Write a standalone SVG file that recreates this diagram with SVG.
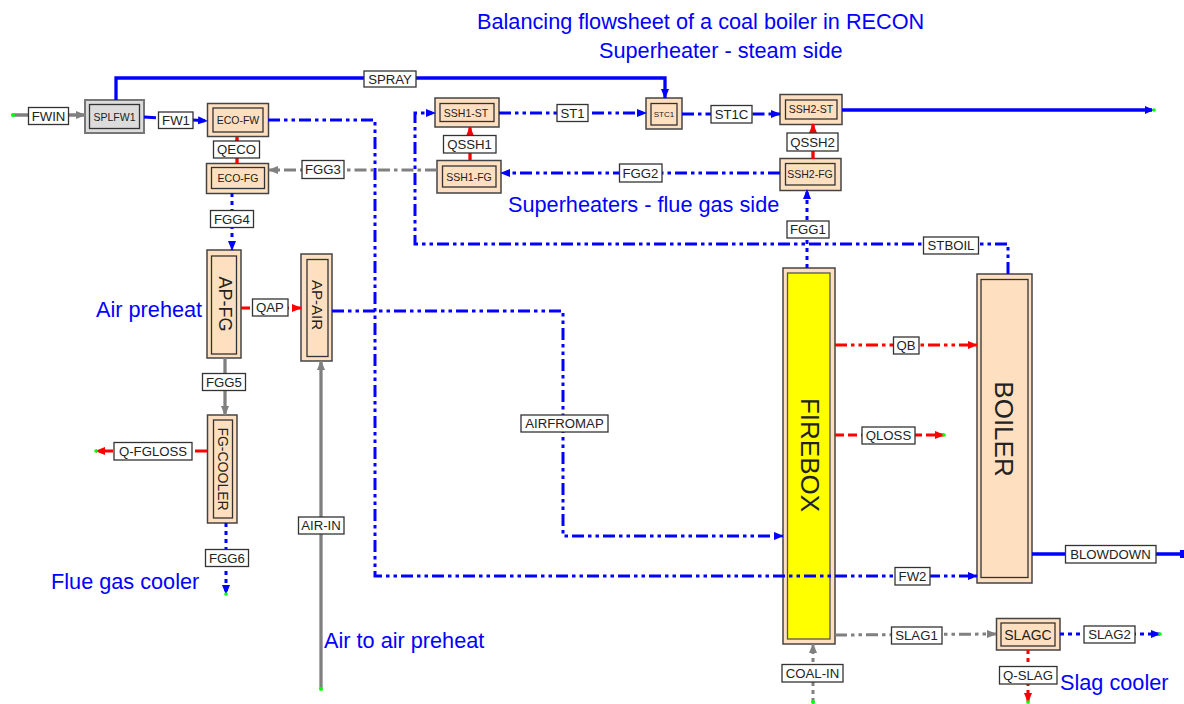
<svg xmlns="http://www.w3.org/2000/svg" width="1184" height="704" viewBox="0 0 1184 704">
<style>
text{font-family:"Liberation Sans",Arial,sans-serif;fill:#222}
.o{fill:#fedfc0;stroke:#444;stroke-width:1.5}
.g{fill:#dcdcdc;stroke:#777;stroke-width:2}
.i{fill:#fedfc0;stroke:#333;stroke-width:1.3}
.n{text-anchor:middle;dominant-baseline:central}
.lb rect{fill:#fff;stroke:#333;stroke-width:1.3}
.lb text{font-size:13.2px;text-anchor:middle;dominant-baseline:central}
.t{font-size:21.7px;fill:#0000ff}
.c{fill:none;stroke-width:3}
.blue{stroke:#0000ff}.red{stroke:#ff0000}.grey{stroke:#808080}
.solid{stroke-width:3.3}
.ddd{stroke-dasharray:12 4 3.500 4 3.500 4}
.dd{stroke-dasharray:12 4 3.500 4}
.d{stroke-dasharray:4 4}
.da{stroke-dasharray:9 4}
.ab{marker-end:url(#ab)}.ar{marker-end:url(#ar)}.ag{marker-end:url(#ag)}
.dot{fill:#00ff00}
</style>
<defs>
<marker id="ab" markerUnits="userSpaceOnUse" markerWidth="12" markerHeight="12" refX="9" refY="5" orient="auto"><path d="M0 1L10 5L0 9Z" fill="#0000ff"/></marker>
<marker id="ar" markerUnits="userSpaceOnUse" markerWidth="12" markerHeight="12" refX="9" refY="5" orient="auto"><path d="M0 1L10 5L0 9Z" fill="#ff0000"/></marker>
<marker id="ag" markerUnits="userSpaceOnUse" markerWidth="12" markerHeight="12" refX="9" refY="5" orient="auto"><path d="M0 1L10 5L0 9Z" fill="#808080"/></marker>
</defs>

<g id="SPLFW1"><rect class="g" x="85" y="100" width="59" height="33"/><rect x="89.500" y="104.500" width="50" height="24" fill="#dcdcdc" stroke="#333" stroke-width="1.3"/><text class="n" x="114.500" y="116.500" font-size="10.500">SPLFW1</text></g>
<g id="ECO-FW"><rect class="o" x="207.500" y="103.500" width="61" height="33"/><rect class="i" x="213" y="108" width="50" height="24"/><text class="n" x="238" y="120" font-size="10.500">ECO-FW</text></g>
<g id="ECO-FG"><rect class="o" x="206.500" y="163.500" width="62" height="30"/><rect class="i" x="211.500" y="167.500" width="53" height="21"/><text class="n" x="238" y="178" font-size="10.500">ECO-FG</text></g>
<g id="AP-FG"><rect class="o" x="207" y="250" width="34" height="108"/><rect class="i" x="211.500" y="256" width="25" height="98"/><text class="n" transform="translate(225 304) rotate(90)" font-size="18">AP-FG</text></g>
<g id="AP-AIR"><rect class="o" x="301" y="254" width="31" height="107"/><rect class="i" x="307" y="259.500" width="21" height="97"/><text class="n" transform="translate(317 305) rotate(90)" font-size="15">AP-AIR</text></g>
<g id="FG-COOLER"><rect class="o" x="207.500" y="415" width="29.500" height="108"/><rect class="i" x="213.500" y="420" width="19" height="98"/><text class="n" transform="translate(223 469) rotate(90)" font-size="14">FG-COOLER</text></g>
<g id="SSH1-ST"><rect class="o" x="435" y="98" width="64" height="29"/><rect class="i" x="440" y="103.500" width="54" height="18"/><text class="n" x="466" y="113" font-size="10.500">SSH1-ST</text></g>
<g id="SSH1-FG"><rect class="o" x="437" y="160.500" width="64" height="32.500"/><rect class="i" x="442.500" y="166" width="53.500" height="21"/><text class="n" x="469" y="177" font-size="10.500">SSH1-FG</text></g>
<g id="STC1"><rect class="o" x="646" y="98" width="36" height="31"/><rect class="i" x="651" y="103.500" width="26" height="21.500"/><text class="n" x="664" y="114.500" font-size="8">STC1</text></g>
<g id="SSH2-ST"><rect class="o" x="780" y="94.500" width="62" height="30"/><rect class="i" x="785.500" y="100" width="51.500" height="19"/><text class="n" x="811" y="109" font-size="10.500">SSH2-ST</text></g>
<g id="SSH2-FG"><rect class="o" x="780" y="158.500" width="61" height="32"/><rect class="i" x="785.500" y="163.500" width="49.500" height="21.500"/><text class="n" x="810" y="174" font-size="10.500">SSH2-FG</text></g>
<g id="FIREBOX"><rect class="o" x="783" y="268" width="52" height="376"/><rect x="787.500" y="273" width="42.500" height="366" fill="#ffff00" stroke="#555" stroke-width="1.3"/><text class="n" transform="translate(810 455) rotate(90)" font-size="26">FIREBOX</text></g>
<g id="BOILER"><rect class="o" x="977" y="274" width="55" height="309"/><rect class="i" x="981" y="279.500" width="47" height="298"/><text class="n" transform="translate(1004 429) rotate(90)" font-size="26">BOILER</text></g>
<g id="SLAGC"><rect class="o" x="996.500" y="618.500" width="63.500" height="31.500"/><rect class="i" x="1001" y="623" width="54" height="23"/><text class="n" x="1028" y="634.500" font-size="14">SLAGC</text></g>

<g id="connectors">
<path class="c grey solid ag" d="M13 115H85"/>
<path class="c blue solid ab" d="M116 100V78H665V98"/>
<path class="c blue dd ab" d="M144 117L158 118M193 120L207 121"/>
<path class="c blue ddd ab" d="M268 120H375V576H977"/>
<path class="c red solid ar" d="M237 163V137"/>
<path class="c grey dd ag" d="M437 170H269"/>
<path class="c blue d ab" d="M232 193V250"/>
<path class="c blue ddd ab" d="M499 113H646"/>
<path class="c blue dd ab" d="M682 114H780"/>
<path class="c blue solid" d="M842 110H1152"/>
<path class="c red solid ar" d="M470 160V127"/>
<path class="c red solid ar" d="M813 159V124"/>
<path class="c blue ddd ab" d="M780 173H501"/>
<path class="c blue d ab" d="M807 268V190"/>
<path class="c blue ddd ab" d="M1008 274V244H415V113H435"/>
<path class="c red ddd ar" d="M835 345H977"/>
<path class="c red da ar" d="M835 435H944"/>
<path class="c red da ar" d="M241 308H301"/>
<path class="c blue ddd ab" d="M332 311H563V536H783"/>
<path class="c grey solid ag" d="M225 358V415"/>
<path class="c red dd ar" d="M207 451H96"/>
<path class="c blue d ab" d="M226 523V594"/>
<path class="c grey solid ag" d="M321 689V361"/>
<path class="c blue solid" d="M1032 554H1182"/>
<path class="c grey ddd ag" d="M835 635L996 634"/>
<path class="c blue d ab" d="M1060 634H1160"/>
<path class="c grey d ag" d="M813 702V644"/>
<path class="c red d ar" d="M1028 650V702"/>
<path fill="#0000ff" d="M1180 550h4v8h-4z"/>
<path fill="#0000ff" d="M1145 106l9 4l-9 4z"/>
<circle class="dot" cx="13" cy="115" r="2"/>
<circle class="dot" cx="1154" cy="110" r="1.8"/>
<circle class="dot" cx="944" cy="435" r="1.8"/>
<circle class="dot" cx="96" cy="451" r="1.8"/>
<circle class="dot" cx="226" cy="594" r="1.8"/>
<circle class="dot" cx="321" cy="689" r="2"/>
<circle class="dot" cx="1160" cy="634" r="1.8"/>
<circle class="dot" cx="813" cy="702" r="2"/>
<circle class="dot" cx="1028" cy="702" r="1.8"/>
</g>

<g id="labels" class="lb">
<g><rect x="28.500" y="107.500" width="40" height="17"/><text x="48.500" y="116">FWIN</text></g>
<g><rect x="158.500" y="112" width="34.500" height="16.500"/><text x="176" y="120.500">FW1</text></g>
<g><rect x="213.500" y="141" width="46" height="17"/><text x="236.500" y="149.500">QECO</text></g>
<g><rect x="302" y="160.500" width="42" height="18"/><text x="323" y="169.500">FGG3</text></g>
<g><rect x="210.500" y="210.500" width="43" height="17"/><text x="232" y="219">FGG4</text></g>
<g><rect x="364" y="71" width="52" height="16"/><text x="390" y="79">SPRAY</text></g>
<g><rect x="557" y="104.500" width="31" height="17"/><text x="572.500" y="113">ST1</text></g>
<g><rect x="711" y="105.500" width="41" height="17.500"/><text x="731.500" y="114.500">ST1C</text></g>
<g><rect x="443.500" y="135.500" width="52.500" height="17.500"/><text x="469.500" y="144.500">QSSH1</text></g>
<g><rect x="787" y="133" width="51" height="18"/><text x="812.500" y="142">QSSH2</text></g>
<g><rect x="619.500" y="164" width="42.500" height="18"/><text x="640.500" y="173">FGG2</text></g>
<g><rect x="787" y="221" width="42" height="17"/><text x="808" y="229.500">FGG1</text></g>
<g><rect x="923.500" y="237" width="55" height="17"/><text x="951" y="245.500">STBOIL</text></g>
<g><rect x="893.500" y="337" width="25.500" height="17"/><text x="906" y="345.500">QB</text></g>
<g><rect x="862" y="427" width="53" height="17"/><text x="888.500" y="435.500">QLOSS</text></g>
<g><rect x="252.500" y="299" width="35.500" height="17"/><text x="270" y="307.500">QAP</text></g>
<g><rect x="202.500" y="373.500" width="43" height="17"/><text x="224" y="382">FGG5</text></g>
<g><rect x="114" y="442.500" width="78" height="17.500"/><text x="153" y="451">Q-FGLOSS</text></g>
<g><rect x="205.500" y="549.500" width="43" height="17"/><text x="227" y="558">FGG6</text></g>
<g><rect x="298.500" y="517" width="45.500" height="17"/><text x="321" y="525.500">AIR-IN</text></g>
<g><rect x="521" y="415" width="87" height="17"/><text x="564.500" y="423.500">AIRFROMAP</text></g>
<g><rect x="1065.500" y="545.500" width="90.500" height="17.500"/><text x="1110.500" y="554">BLOWDOWN</text></g>
<g><rect x="895" y="567.500" width="35" height="17.500"/><text x="912.500" y="576">FW2</text></g>
<g><rect x="891.500" y="627" width="50.500" height="17"/><text x="916.500" y="635.500">SLAG1</text></g>
<g><rect x="1084" y="626" width="51" height="17"/><text x="1109.500" y="634.500">SLAG2</text></g>
<g><rect x="782" y="664.500" width="61" height="17.500"/><text x="812.500" y="673">COAL-IN</text></g>
<g><rect x="999.500" y="666.500" width="57.500" height="17.500"/><text x="1028" y="675">Q-SLAG</text></g>
</g>

<g id="titles">
<text class="t" x="477" y="29">Balancing flowsheet of a coal boiler in RECON</text>
<text class="t" x="599" y="58">Superheater - steam side</text>
<text class="t" x="508" y="212">Superheaters - flue gas side</text>
<text class="t" x="96" y="317">Air preheat</text>
<text class="t" x="51" y="589">Flue gas cooler</text>
<text class="t" x="324" y="648">Air to air preheat</text>
<text class="t" x="1060" y="690">Slag cooler</text>
</g>
</svg>
